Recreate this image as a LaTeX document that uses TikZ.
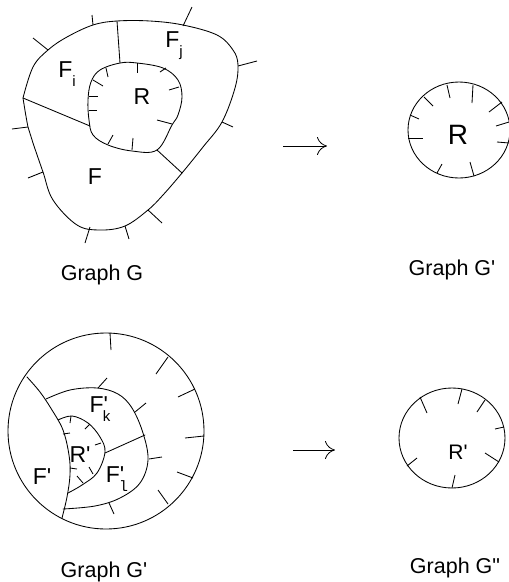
\documentclass[tikz,border=0pt]{standalone}
\usepackage{fontspec}
\setmainfont{Liberation Sans}
\newfontfamily\monof{Liberation Mono}
\usetikzlibrary{arrows.meta}
\tikzset{
  ln/.style={line width=0.85pt, line join=round, line cap=round},
  tk/.style={line width=0.85pt},
  lbl/.style={inner sep=0pt, font=\fontsize{23}{26}\selectfont},
  captxt/.style={inner sep=0pt, font=\fontsize{21.5}{24}\selectfont},
  arr/.style={line width=0.8pt, -{Computer Modern Rightarrow[length=10pt,width=18pt,line width=0.8pt]}}
}
\newcommand{\sbs}[1]{\raisebox{-0.38em}{\fontsize{15}{15}\selectfont #1}}
\newcommand{\pq}{\textquotesingle}
\newcommand{\dq}{\textquotedbl}
\begin{document}
\begin{tikzpicture}[x=1pt,y=-1pt]
\useasboundingbox (0,0) rectangle (509,582);
% ---------------- Graph G ----------------
\draw[ln] plot[smooth, tension=0.6] coordinates {(23,98) (33,67) (48,50) (67,37) (93,25) (117,21) (150,21) (183,25) (217,35) (233,50) (238,65) (235,88) (222,122) (203,147) (182,173) (163,195) (148,210) (125,226) (100,230) (77,225) (53,200) (43,172) (33,143) (28,127) (23,98)};
\draw[ln] plot[smooth cycle, tension=0.6] coordinates {(120,63) (137,63) (163,68) (178,80) (182,97) (178,115) (172,125) (157,150) (132,151) (108,145) (93,135) (89,120) (88,100) (91,82) (100,70)};
\coordinate (d1a) at (117,21); \coordinate (d1b) at (120,63);
\coordinate (d2a) at (23,98);  \coordinate (d2b) at (90,126);
\coordinate (d3a) at (157,150); \coordinate (d3b) at (182,173);
\draw[ln] (d1a) -- (d1b);
\draw[ln] (d2a) -- (d2b);
\draw[ln] (d3a) -- (d3b);
% outer ticks
\foreach \a/\b in {{(92,15)}/{(93,25)}, {(33,38)}/{(48,50)}, {(192,7)}/{(183,26)}, {(257,61)}/{(238,66)}, {(233,127)}/{(222,122)}, {(12,129)}/{(28,127)}, {(28,178)}/{(43,172)}, {(148,210)}/{(162,223)}, {(90,227)}/{(85,243)}, {(125,226)}/{(129,239)}}
  \draw[tk] \a -- \b;
% inner ticks
\foreach \a/\b in {{(106,68)}/{(108,77)}, {(137,63)}/{(137,73)}, {(166,68)}/{(160,72)}, {(179,87)}/{(169,90)}, {(172,124)}/{(157,120)}, {(93,80)}/{(103,86)}, {(89,96)}/{(98,96)}, {(89,110)}/{(97,110)}, {(108,144)}/{(113,135)}, {(132,150)}/{(133,138)}}
  \draw[tk] \a -- \b;
\node[lbl] (fi) at (67,74) {F\sbs{i}};
\node[lbl] (fj) at (174,46) {F\sbs{j}};
\node[lbl] (r1) at (142,97) {R};
\node[lbl] (f1) at (95,177) {F};
\node[captxt] (c1) at (102,275) {Graph G};
% ---------------- arrow 1 ----------------
\coordinate (a1s) at (283,146); \coordinate (a1e) at (327,146);
\draw[arr] (a1s) -- (a1e);
% ---------------- Graph G' (top right) ----------------
\draw[ln] (459,130) ellipse [x radius=51, y radius=48];
\foreach \a/\b in {{(410,115)}/{(419,119)}, {(424,97)}/{(433,106)}, {(447,85)}/{(450,98)}, {(473,85)}/{(472,103)}, {(502,102)}/{(489,112)}, {(509,122)}/{(496,126)}, {(509,143)}/{(497,142)}, {(408,138)}/{(423,138)}, {(437,173)}/{(442,164)}, {(474,176)}/{(470,162)}}
  \draw[tk] \a -- \b;
\node[inner sep=0pt, font=\fontsize{28}{31}\selectfont] (r2) at (458,135) {R};
\node[captxt] (c2) at (452,270) {Graph G\pq};
% ---------------- Graph G' (bottom left) ----------------
\draw[ln] (106,431) circle [radius=98];
\draw[ln] plot[smooth, tension=0.6] coordinates {(27,377) (40,392) (52,410) (63,430) (69,455) (70,475) (67,497) (62,518)};
\draw[ln] plot[smooth, tension=0.6] coordinates {(46,399) (70,390) (97,388) (118,394) (132,408) (143,433) (148,460) (140,483) (120,498) (95,506) (63,509)};
\draw[ln] plot[smooth, tension=0.6] coordinates {(58,420) (72,416) (88,423) (100,437) (105,452) (97,473) (82,485) (68,493)};
\coordinate (d4a) at (105,453); \coordinate (d4b) at (145,435);
\draw[ln] (d4a) -- (d4b);
\foreach \a/\b in {{(110,333)}/{(111,350)}, {(168,357)}/{(156,374)}, {(195,389)}/{(178,397)}, {(204,436)}/{(185,438)}, {(193,478)}/{(177,472)}, {(168,504)}/{(158,490)},
  {(98,388)}/{(107,378)}, {(135,412)}/{(146,403)}, {(149,459)}/{(162,457)}, {(109,503)}/{(114,514)},
  {(71,416)}/{(70,423)}, {(63,434)}/{(70,433)}, {(90,424)}/{(85,429)}, {(101,443)}/{(95,445)}, {(70,468)}/{(77,469)}, {(89,467)}/{(93,474)}, {(77,476)}/{(83,483)}}
  \draw[tk] \a -- \b;
\node[lbl] (fk) at (100,409) {F\pq\kern-0.22em\sbs{k}};
\node[lbl] (fl) at (117,479) {F\pq\kern-0.22em\sbs{\monof l}};
\node[lbl] (rp) at (80,455) {R\pq};
\node[lbl] (fp) at (42,477) {F\pq};
\node[captxt] (c3) at (104,572) {Graph G\pq};
% ---------------- arrow 2 ----------------
\coordinate (a2s) at (293,450); \coordinate (a2e) at (335,450);
\draw[arr] (a2s) -- (a2e);
% ---------------- Graph G'' ----------------
\draw[ln] (452,438) ellipse [x radius=53, y radius=50];
\foreach \a/\b in {{(420,397)}/{(427,413)}, {(462,389)}/{(458,404)}, {(485,400)}/{(477,412)}, {(504,427)}/{(495,429)}, {(499,462)}/{(485,453)}, {(455,475)}/{(452,488)}, {(407,466)}/{(417,458)}}
  \draw[tk] \a -- \b;
\node[inner sep=0pt, font=\fontsize{21}{24}\selectfont] (rpp) at (458,452) {R\pq};
\node[captxt] (c4) at (455,568) {Graph G\dq};
\end{tikzpicture}
\end{document}
